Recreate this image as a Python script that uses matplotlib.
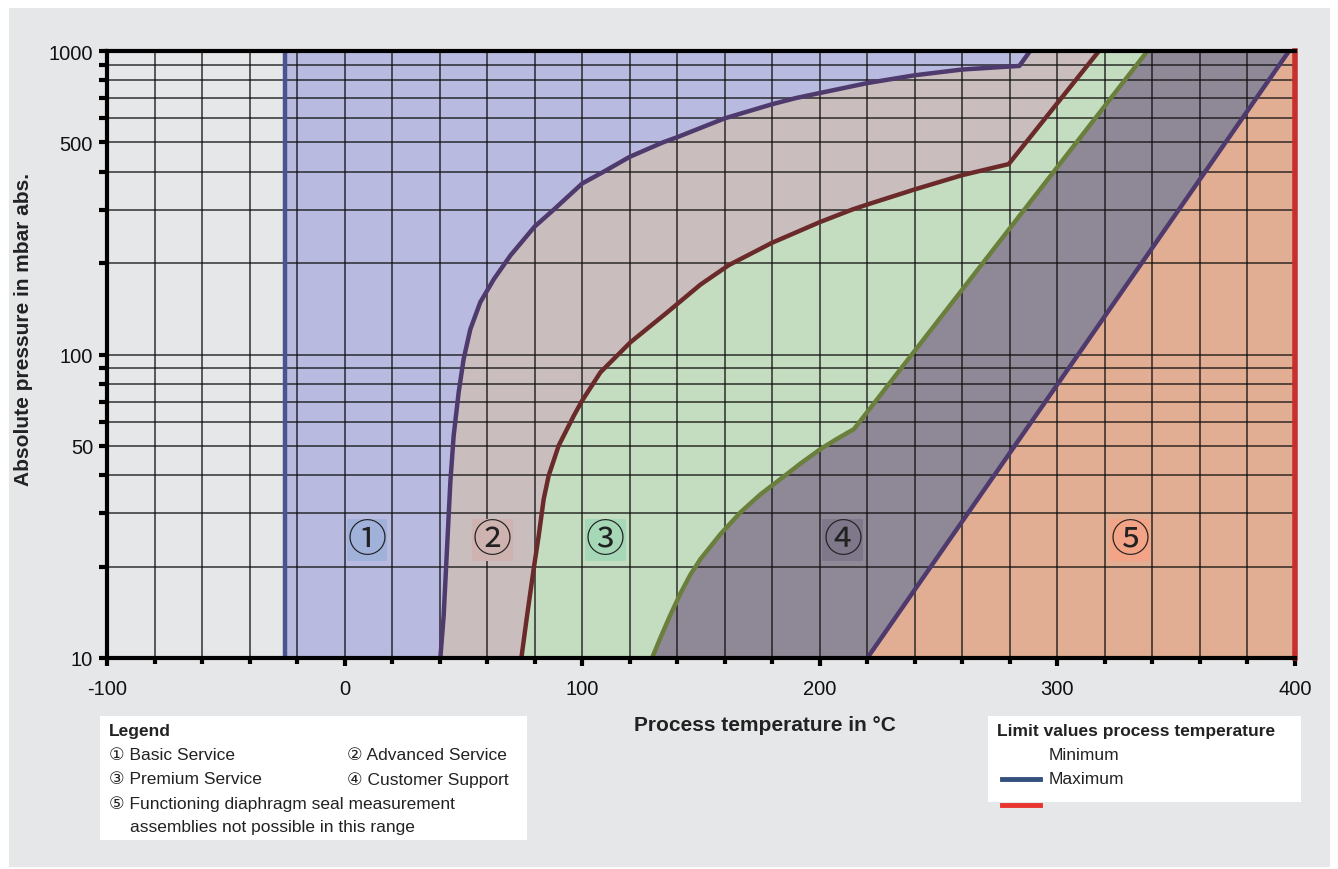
import numpy as np
import matplotlib
matplotlib.use("Agg")
import matplotlib.pyplot as plt
from matplotlib.ticker import FixedLocator, MultipleLocator, NullFormatter, FuncFormatter
from matplotlib.patches import Rectangle
from matplotlib.lines import Line2D

plt.rcParams['font.family'] = ['Liberation Sans', 'DejaVu Sans']
plt.rcParams['axes.unicode_minus'] = False

# ---------------- data ----------------
T_MIN = -25
T_MAX = 400

# curve 1 (Basic / Advanced boundary)
c1_T = [40.3, 41.7, 43.1, 44.5, 45.9, 48.0, 50.1, 52.9, 57.1, 62.8, 69.8, 80.0, 88.0,
        100.0, 109.0, 120.0, 134.0, 140.0, 160.0, 180.0, 190.0, 200.0, 220.0, 240.0,
        260.0, 284.0, 288.5]
c1_p = [10, 13.8, 22.9, 37.9, 54, 75, 96.6, 121, 148.6, 177, 212, 264, 300,
        366, 400, 448, 500, 520, 600, 668, 700, 727, 784, 832, 869, 893, 1000]

# curve 2 (Advanced / Premium boundary)
c2_T = [74.4, 76.8, 79.6, 81.7, 83.8, 85.9, 90.1, 96.5, 100.0, 107.7, 120.3, 135.8,
        149.8, 161.7, 179.7, 200.0, 213.5, 220.0, 240.0, 260.0, 279.5, 317.5]
c2_p = [10, 13.8, 19.7, 25.3, 33.4, 39.9, 50.1, 62.9, 70.5, 87.4, 109.7, 137.7,
        170, 197, 233, 273, 300, 312, 350, 390, 424, 1000]

# curve 3 (Premium / Customer Support boundary)
c3_T = [129.4, 133.0, 137.0, 141.3, 145.5, 149.8, 158.2, 166.6, 175.0, 183.5, 192.0,
        200.3, 207.0, 214.4, 337.9]
c3_p = [10, 11.7, 13.8, 16.3, 18.8, 21.2, 25.6, 30.2, 34.6, 38.9, 43.8,
        48.8, 52.6, 56.8, 1000]

# curve 4 (Customer Support / not possible boundary)
c4_T = [220.0, 397.5]
c4_p = [10, 1000]

curves_T = [c1_T, c2_T, c3_T, c4_T]
curves_p = [c1_p, c2_p, c3_p, c4_p]

region_labels = ['①', '②', '③', '④', '⑤']
region_label_T = [9.4, 62.2, 109.8, 209.6, 330.6]
region_label_p = 24.5

x_ticks = [-100, 0, 100, 200, 300, 400]
y_ticks = [10, 50, 100, 500, 1000]
y_minor = [20, 30, 40, 60, 70, 80, 90, 200, 300, 400, 600, 700, 800, 900]

# ---------------- style ----------------
BG = '#e6e7e9'
region_colors = ['#b8bbdf', '#cabdbd', '#c4ddc0', '#8f8896', '#e1ae94']
label_box_colors = ['#a0b1da', '#cfb3b1', '#a6d8b8', '#7f778a', '#f3a386']
curve_colors = ['#4f3a6e', '#6b2a2a', '#6b7f3c', '#4f3a6e']
MIN_COLOR = '#4a5590'
MAX_COLOR = '#c8302e'

W, H = 1338, 870
fig = plt.figure(figsize=(W / 100, H / 100), dpi=100)
fig.patch.set_facecolor('white')


def fx(px):
    return px / W


def fy(py):
    return 1 - py / H


# gray panel
fig.patches.append(Rectangle((fx(9), fy(868)), fx(1330) - fx(9), fy(9) - fy(868),
                             transform=fig.transFigure, facecolor=BG, edgecolor='none', zorder=-10))

ax = fig.add_axes([fx(107), fy(659), fx(1295) - fx(107), fy(52) - fy(659)])
ax.set_zorder(2)
ax.set_facecolor(BG)
ax.set_xlim(-100, 400)
ax.set_yscale('log')
ax.set_ylim(10, 1000)

# regions
ax.axvspan(T_MIN, T_MAX, color=region_colors[0], lw=0, zorder=0.5)
for i, (cT, cp) in enumerate(zip(curves_T, curves_p)):
    xs = list(cT) + [T_MAX, T_MAX]
    ys = list(cp) + [1000, 10]
    ax.fill(xs, ys, color=region_colors[i + 1], lw=0, zorder=0.6 + 0.01 * i)

# grid
ax.xaxis.set_major_locator(FixedLocator(x_ticks))
ax.xaxis.set_minor_locator(MultipleLocator(20))
ax.yaxis.set_major_locator(FixedLocator(y_ticks))
ax.yaxis.set_minor_locator(FixedLocator(y_minor))
ax.yaxis.set_major_formatter(FuncFormatter(lambda v, p: f'{int(v)}'))
ax.yaxis.set_minor_formatter(NullFormatter())
ax.grid(which='both', color='#111111', lw=1.1, alpha=0.85, zorder=1.5)

# curves
for i, (cT, cp) in enumerate(zip(curves_T, curves_p)):
    ax.plot(cT, cp, color=curve_colors[i], lw=3.2, solid_capstyle='butt',
            solid_joinstyle='round', zorder=3)

# limits
ax.axvline(T_MIN, color=MIN_COLOR, lw=3.2, zorder=3)
ax.plot([T_MAX, T_MAX], [10, 1000], color=MAX_COLOR, lw=4.0, zorder=4, clip_on=False,
        solid_capstyle='projecting')

# region labels
for i, lab in enumerate(region_labels):
    ax.text(region_label_T[i], region_label_p, lab, fontsize=28,
            family=['Noto Sans CJK JP', 'DejaVu Sans'], color='#222222',
            ha='center', va='center', zorder=5,
            bbox=dict(facecolor=label_box_colors[i], edgecolor='none', pad=0.5))

# spines / ticks
for s in ['left', 'bottom', 'top']:
    ax.spines[s].set_linewidth(3.0)
    ax.spines[s].set_color('black')
    ax.spines[s].set_zorder(6)
ax.spines['right'].set_visible(False)
ax.tick_params(axis='x', which='major', length=6, width=3, pad=9, labelsize=14.5, colors='black')
ax.tick_params(axis='x', which='minor', length=4, width=3)
ax.tick_params(axis='y', which='both', length=6, width=3, pad=4, labelsize=14.5)
for lab in ax.get_xticklabels() + ax.get_yticklabels():
    lab.set_color('#111111')

# axis titles
fig.text(fx(765), fy(726), 'Process temperature in °C', fontsize=15, fontweight='bold',
         ha='center', va='center', color='#222222')
fig.text(fx(24), fy(330), 'Absolute pressure in mbar abs.', fontsize=15, fontweight='bold',
         rotation=90, ha='center', va='center', color='#222222')

# legend box (left)
fig.patches.append(Rectangle((fx(100), fy(841)), fx(527) - fx(100), fy(717) - fy(841),
                             transform=fig.transFigure, facecolor='white', edgecolor='none', zorder=1))
lt = dict(fontsize=12.5, color='#222222', va='center', ha='left', zorder=2)
fig.text(fx(109), fy(732), 'Legend', fontweight='bold', **lt)
fig.text(fx(109), fy(756), '① Basic Service', **lt)
fig.text(fx(347), fy(756), '② Advanced Service', **lt)
fig.text(fx(109), fy(780), '③ Premium Service', **lt)
fig.text(fx(347), fy(780), '④ Customer Support', **lt)
fig.text(fx(109), fy(804), '⑤ Functioning diaphragm seal measurement', **lt)
fig.text(fx(130), fy(828), 'assemblies not possible in this range', **lt)

# legend box (right)
fig.patches.append(Rectangle((fx(988), fy(803)), fx(1301) - fx(988), fy(717) - fy(803),
                             transform=fig.transFigure, facecolor='white', edgecolor='none', zorder=1))
fig.text(fx(997), fy(732), 'Limit values process temperature', fontweight='bold', **lt)
fig.text(fx(1049), fy(756), 'Minimum', **lt)
fig.text(fx(1049), fy(780), 'Maximum', **lt)
fig.lines.append(Line2D([fx(1002), fx(1040)], [fy(780), fy(780)], transform=fig.transFigure,
                        color='#34507e', lw=3.5, zorder=3))
fig.lines.append(Line2D([fx(1002), fx(1040)], [fy(806), fy(806)], transform=fig.transFigure,
                        color='#e8332e', lw=3.5, zorder=3))

fig.savefig('out.png', dpi=100, facecolor='white')
